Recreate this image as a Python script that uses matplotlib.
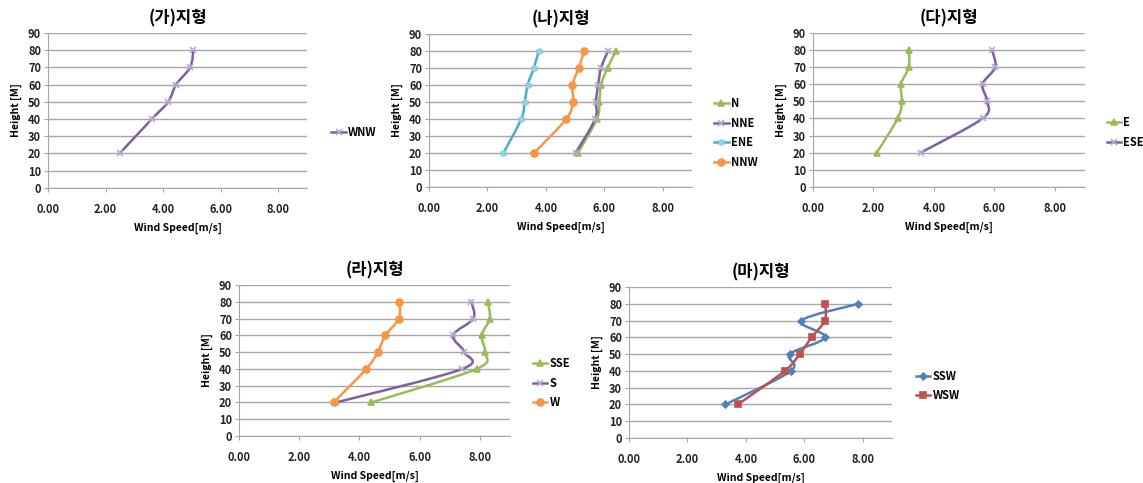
import numpy as np
import matplotlib
matplotlib.use("Agg")
import matplotlib.pyplot as plt
from matplotlib.path import Path
from matplotlib.patches import PathPatch
from matplotlib.lines import Line2D

plt.rcParams['font.family'] = ['Noto Sans CJK KR', 'DejaVu Sans']
plt.rcParams['font.weight'] = 'bold'

# heights of the measurements [M]
heights = [20, 40, 50, 60, 70, 80]

# (가)지형
wnw = [2.49, 3.61, 4.18, 4.45, 4.94, 5.05]
# (나)지형
n_dir = [5.10, 5.75, 5.83, 5.89, 6.11, 6.40]
nne = [5.02, 5.69, 5.71, 5.79, 5.89, 6.13]
ene = [2.55, 3.16, 3.28, 3.38, 3.59, 3.76]
nnw = [3.60, 4.70, 4.93, 4.91, 5.13, 5.31]
# (다)지형
e_dir = [2.11, 2.80, 2.94, 2.91, 3.17, 3.17]
ese = [3.56, 5.61, 5.76, 5.61, 6.03, 5.92]
# (라)지형
sse = [4.40, 7.89, 8.17, 8.06, 8.33, 8.26]
s_dir = [3.22, 7.42, 7.48, 7.11, 7.78, 7.72]
w_dir = [3.14, 4.23, 4.61, 4.86, 5.31, 5.33]
# (마)지형
ssw = [3.30, 5.54, 5.50, 6.71, 5.90, 7.85]
wsw = [3.73, 5.33, 5.84, 6.25, 6.70, 6.72]

xticks = [0, 2, 4, 6, 8]
yticks = list(range(0, 91, 10))

PURPLE = '#7D60A0'
LAVENDER = '#B9A8D6'
GREEN = '#9BBB59'
TEAL = '#4BACC6'
LTEAL = '#8ED3E6'
ORANGE = '#F79646'
BLUE = '#4F81BD'
RED = '#C0504D'

# title, axes rect, (label, values, line colour, marker, marker colour), legend anchor
panels = [
    ("(가)지형", [0.042, 0.611, 0.2266, 0.321],
     [("WNW", wnw, PURPLE, 'x', LAVENDER)], (1.09, 0.355)),
    ("(나)지형", [0.3753, 0.613, 0.2301, 0.317],
     [("N", n_dir, GREEN, '^', GREEN),
      ("NNE", nne, PURPLE, 'x', LAVENDER),
      ("ENE", ene, TEAL, (6, 2, 0), LTEAL),
      ("NNW", nnw, ORANGE, 'o', ORANGE)], (1.08, 0.353)),
    ("(다)지형", [0.7113, 0.613, 0.238, 0.319],
     [("E", e_dir, GREEN, '^', GREEN),
      ("ESE", ese, PURPLE, 'x', LAVENDER)], (1.075, 0.355)),
    ("(라)지형", [0.2091, 0.0973, 0.2371, 0.3126],
     [("SSE", sse, GREEN, '^', GREEN),
      ("S", s_dir, PURPLE, 'x', LAVENDER),
      ("W", w_dir, ORANGE, 'o', ORANGE)], (1.08, 0.35)),
    ("(마)지형", [0.5503, 0.0932, 0.2301, 0.3126],
     [("SSW", ssw, BLUE, 'D', BLUE),
      ("WSW", wsw, RED, 's', RED)], (1.087, 0.344)),
]


def smooth_patch(xs, ys, color):
    # Excel style smoothed line: Catmull-Rom segments as cubic beziers
    pts = np.column_stack([xs, ys]).astype(float)
    ext = np.vstack([pts[0], pts, pts[-1]])
    verts = [pts[0]]
    codes = [Path.MOVETO]
    for i in range(1, len(ext) - 2):
        p0, p1, p2, p3 = ext[i - 1], ext[i], ext[i + 1], ext[i + 2]
        verts += [p1 + (p2 - p0) / 6.0, p2 - (p3 - p1) / 6.0, p2]
        codes += [Path.CURVE4] * 3
    return PathPatch(Path(verts, codes), facecolor='none', edgecolor=color,
                     lw=1.8, capstyle='round', joinstyle='round', zorder=3)


fig = plt.figure(figsize=(11.43, 4.83), dpi=100)

for title, rect, series, leg_pos in panels:
    ax = fig.add_axes(rect)
    handles = []
    for name, vals, col, mk, mcol in series:
        ax.add_patch(smooth_patch(vals, heights, col))
        ms = 3.5 if mk == 'D' else 5
        ax.plot(vals, heights, linestyle='none', marker=mk, ms=ms,
                color=mcol, mec=mcol, mew=1.2, zorder=4)
        handles.append(Line2D([], [], color=col, lw=1.8, marker=mk, ms=ms,
                              mfc=mcol, mec=mcol, mew=1.2))
    ax.set_xlim(0, 9)
    ax.set_ylim(0, 90)
    ax.set_xticks(xticks)
    ax.set_xticklabels(['%.2f' % t for t in xticks])
    ax.set_yticks(yticks)
    ax.yaxis.grid(True, color='#A6A6A6', lw=1.0)
    ax.set_axisbelow(True)
    for side in ('top', 'right'):
        ax.spines[side].set_visible(False)
    for side in ('left', 'bottom'):
        ax.spines[side].set_color('#A6A6A6')
    ax.tick_params(axis='both', labelsize=8, colors='#A6A6A6', length=3,
                   labelcolor='#222222', pad=2)
    ax.tick_params(axis='x', pad=8)
    ax.set_title(title, fontsize=12, fontweight='bold', pad=7)
    ax.set_xlabel("Wind Speed[m/s]", fontsize=7.5, fontweight='bold', labelpad=5)
    ax.set_ylabel("Height [M]", fontsize=7.5, fontweight='bold', labelpad=4)
    ax.legend(handles, [s[0] for s in series], loc='center left',
              bbox_to_anchor=leg_pos, frameon=False, fontsize=8,
              handlelength=1.3, handletextpad=0.2, labelspacing=0.6,
              borderaxespad=0, borderpad=0.1)

fig.savefig("out.png", dpi=100)
